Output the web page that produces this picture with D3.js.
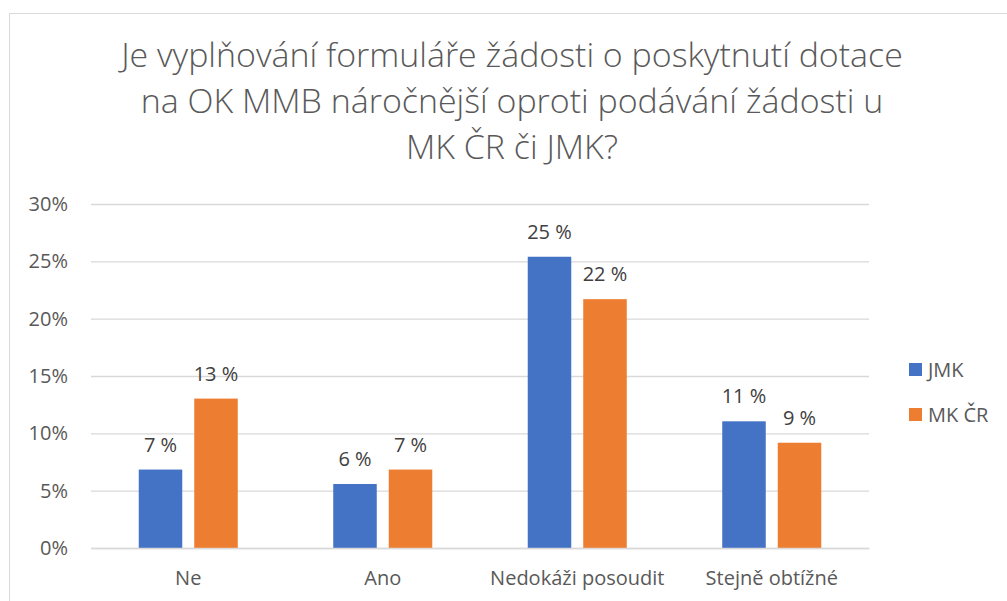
<!DOCTYPE html>
<html>
<head>
<meta charset="utf-8">
<script src="https://cdn.jsdelivr.net/npm/d3@7"></script>
<style>
  html, body { margin: 0; padding: 0; background: #fff; }
  svg { display: block; }
  text { font-family: "Open Sans", "Liberation Sans", sans-serif; }
</style>
</head>
<body>
<svg id="chart" width="1007" height="601"></svg>
<script>
const titleLines = ["Je vyplňování formuláře žádosti o poskytnutí dotace",
                    "na OK MMB náročnější oproti podávání žádosti u",
                    "MK ČR či JMK?"];
const categories = ["Ne", "Ano", "Nedokáži posoudit", "Stejně obtížné"];
const seriesNames = ["JMK", "MK ČR"];
const jmkValues = [6.84, 5.58, 25.4, 11.05];
const mkcrValues = [13.03, 6.84, 21.7, 9.18];
const yTicks = [0, 5, 10, 15, 20, 25, 30];
const colors = ["#4472C4", "#ED7D31"];

const seriesValues = [jmkValues, mkcrValues];
const data = categories.map((c, i) => ({
  cat: c,
  vals: seriesNames.map((s, j) => ({ series: s, value: seriesValues[j][i] }))
}));

const svg = d3.select("#chart");
const FS = 20;

// chart frame
svg.append("rect")
  .attr("x", 9.5).attr("y", 13.5)
  .attr("width", 1007).attr("height", 601)
  .attr("fill", "#fff").attr("stroke", "#d9d9d9").attr("stroke-width", 1);

// title
const title = svg.append("g");
titleLines.forEach((t, i) => {
  title.append("text")
    .attr("x", 512).attr("y", 67 + i * 46)
    .attr("text-anchor", "middle")
    .attr("fill", "#595959")
    .attr("font-weight", 300)
    .attr("font-size", 28)
    .text(t);
});
{
  const first = title.select("text").node();
  const w = first.getComputedTextLength();
  const fs = 28 * 782 / w;
  title.selectAll("text").attr("font-size", fs);
}

const plotLeft = 91, plotRight = 869, plotTop = 204, plotBottom = 548;

const y = d3.scaleLinear().domain([0, 30]).range([plotBottom, plotTop]);
const x = d3.scaleBand().domain(categories).range([plotLeft, plotRight]).paddingInner(0).paddingOuter(0);
const xInner = d3.scaleBand().domain(seriesNames).range([0, x.bandwidth()])
  .paddingInner(0.216).paddingOuter(0.86);

// gridlines + y labels
const yAxis = d3.axisLeft(y).tickValues(yTicks).tickFormat(d => d + "%")
  .tickSize(-(plotRight - plotLeft)).tickPadding(23);
const gy = svg.append("g").attr("transform", `translate(${plotLeft},0)`).call(yAxis);
gy.select(".domain").remove();
gy.selectAll(".tick line").attr("stroke", "#d9d9d9").attr("stroke-width", 1.3);
gy.selectAll(".tick text")
  .attr("fill", "#595959").attr("font-size", FS).attr("font-family", "'Open Sans', sans-serif");

// bars
const groups = svg.append("g").selectAll("g").data(data).join("g")
  .attr("transform", d => `translate(${x(d.cat)},0)`);
groups.selectAll("rect").data(d => d.vals).join("rect")
  .attr("x", d => xInner(d.series))
  .attr("width", xInner.bandwidth())
  .attr("y", d => y(d.value))
  .attr("height", d => y(0) - y(d.value))
  .attr("fill", (d, i) => colors[i]);

// data labels
groups.selectAll("text").data(d => d.vals).join("text")
  .attr("x", d => xInner(d.series) + xInner.bandwidth() / 2)
  .attr("y", d => y(d.value) - 18)
  .attr("text-anchor", "middle")
  .attr("fill", "#404040")
  .attr("font-size", FS)
  .text(d => Math.round(d.value) + " %");

// x axis
const xAxis = d3.axisBottom(x).tickSize(0);
const gx = svg.append("g").attr("transform", `translate(0,${plotBottom})`).call(xAxis);
gx.select(".domain").attr("stroke", "#d9d9d9").attr("stroke-width", 1.3);
gx.selectAll(".tick text")
  .attr("y", 37).attr("dy", null)
  .attr("fill", "#595959").attr("font-size", FS).attr("font-family", "'Open Sans', sans-serif");

// legend
const legend = svg.append("g").selectAll("g").data(seriesNames).join("g")
  .attr("transform", (d, i) => `translate(909,${363 + i * 45})`);
legend.append("rect").attr("width", 13).attr("height", 13).attr("fill", (d, i) => colors[i]);
legend.append("text").attr("x", 19).attr("y", 14)
  .attr("fill", "#595959").attr("font-size", FS).text(d => d);
</script>
</body>
</html>
